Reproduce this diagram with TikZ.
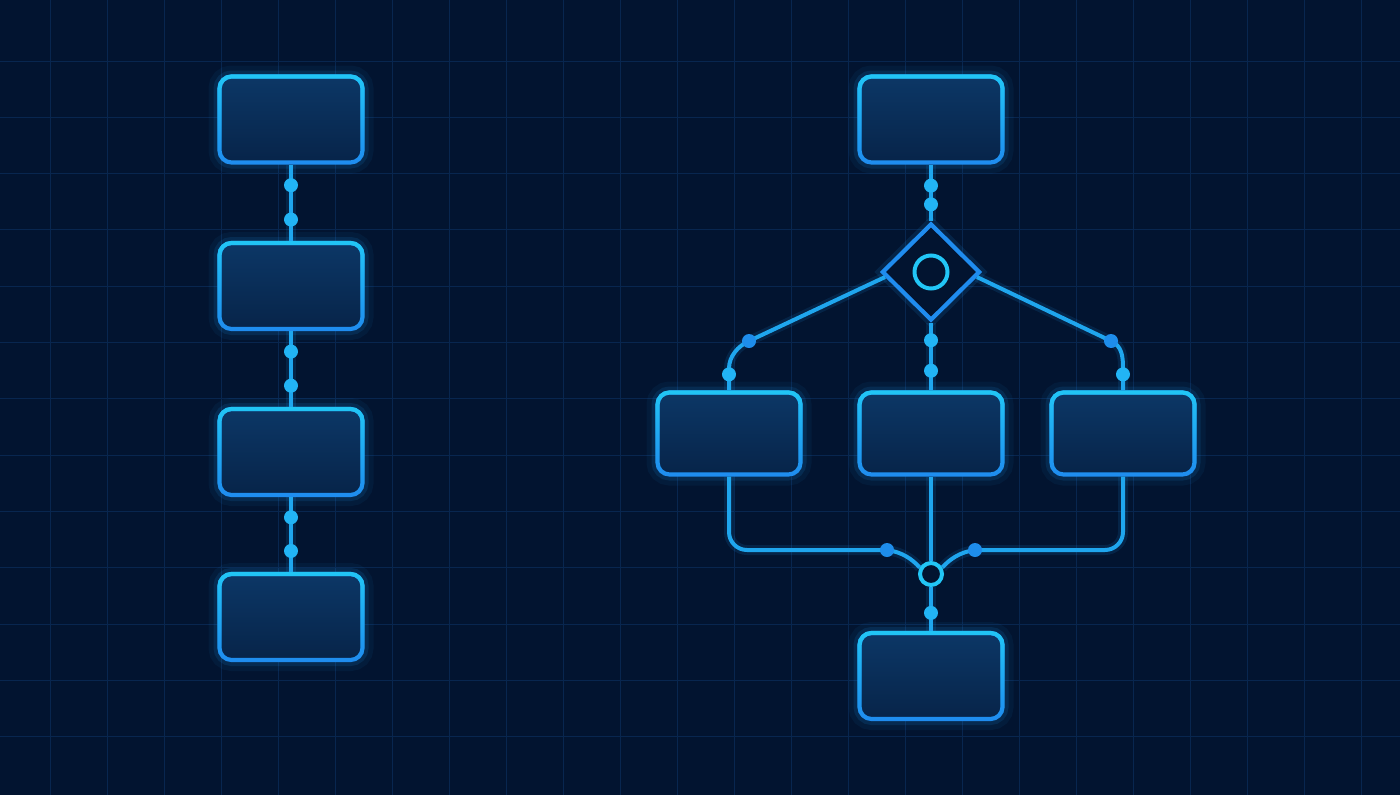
\documentclass[tikz,border=0pt]{standalone}
\usepackage{tikz}
\usetikzlibrary{shapes.geometric,calc,fadings}
\definecolor{bgc}{HTML}{021430}
\definecolor{gridc}{HTML}{08264F}
\definecolor{boxtop}{HTML}{0C3766}
\definecolor{boxbot}{HTML}{072449}
\definecolor{edgetop}{HTML}{22C6F6}
\definecolor{edgebot}{HTML}{1F8CEF}
\definecolor{wirec}{HTML}{1FA6EE}
\definecolor{knotc}{HTML}{22B4F5}
\definecolor{knotb}{HTML}{1E8DEB}
\definecolor{glowc}{HTML}{1E9CF0}
\tikzstyle{stage} = [rectangle, rounded corners=12pt, minimum width=143pt, minimum height=86pt, inner sep=0pt, draw=edgebot, line width=4.2pt, top color=boxtop, bottom color=boxbot, preaction={draw=glowc, line width=22pt, opacity=.06}, preaction={draw=glowc, line width=12pt, opacity=.12}, postaction={draw=edgetop, line width=4.2pt, path fading=south}]
\tikzstyle{knot} = [circle, fill=knotc, minimum size=14pt, inner sep=0pt]
\tikzstyle{conn} = [draw=wirec, line width=4pt, preaction={draw=glowc, line width=10pt, opacity=.12}]
\tikzstyle{gline} = [draw=gridc, line width=1pt]

\begin{document}
\begin{tikzpicture}[x=1pt, y=-1pt]
    \useasboundingbox (0,0) rectangle (1400,795);
    \fill[bgc] (0,0) rectangle (1400,795);
    \foreach \i in {0,...,23} \draw[gline] ({50+57*\i},0) -- ({50+57*\i},795);
    \foreach \j in {0,...,12} \draw[gline] (0,{61+56.33*\j}) -- (1400,{61+56.33*\j});

    \node[stage] (s1) at (291,119.5) {};
    \node[stage] (s2) at (291,286) {};
    \node[stage] (s3) at (291,452) {};
    \node[stage] (s4) at (291,617) {};
    \foreach \a/\b in {s1/s2, s2/s3, s3/s4}
        \draw[conn] (\a.south) -- node[knot, pos=.27] {} node[knot, pos=.72] {} (\b.north);

    \node[stage] (start) at (931,119.5) {};
    \node[diamond, draw=edgebot, line width=4.2pt, fill=bgc, minimum width=98pt, minimum height=97pt, inner sep=0pt,
          preaction={draw=glowc, line width=12pt, opacity=.12}] (gate) at (931,272) {};
    \node[circle, draw=edgetop, line width=4pt, minimum size=33pt, inner sep=0pt] (gatec) at (gate) {};
    \node[stage, minimum height=82pt] (lbox) at (729,433.5) {};
    \node[stage, minimum height=82pt] (mbox) at (931,433.5) {};
    \node[stage, minimum height=82pt] (rbox) at (1123,433.5) {};
    \node[stage] (finish) at (931,676) {};
    \node[circle, draw=edgetop, line width=4pt, fill=bgc, minimum size=22pt, inner sep=0pt] (merge) at (931,574) {};

    \coordinate (lj) at (749,341);
    \coordinate (rj) at (1111,341);
    \coordinate (ml) at (887,550);
    \coordinate (mr) at (975,550);

    \draw[conn] (start.south) -- node[knot, pos=.37] {} node[knot, pos=.7] {} (gate.north);
    \draw[conn] (gate.south) -- node[knot, pos=.26] {} node[knot, pos=.71] {} (mbox.north);
    \draw[conn] ($(gate.west)!.1!(gate.south)$) -- (lj) .. controls (738,346) and ([yshift=34pt]lbox.north) .. ([yshift=22pt]lbox.north) -- node[knot, pos=.27] {} (lbox.north);
    \draw[conn] ($(gate.east)!.1!(gate.south)$) -- (rj) .. controls (1122,346) and ([yshift=34pt]rbox.north) .. ([yshift=22pt]rbox.north) -- node[knot, pos=.27] {} (rbox.north);
    \node[knot, fill=knotb] (kl) at (lj) {};
    \node[knot, fill=knotb] (kr) at (rj) {};

    \draw[conn, rounded corners=18pt] (lbox.south) |- (ml);
    \draw[conn, rounded corners=18pt] (rbox.south) |- (mr);
    \draw[conn] (ml) .. controls (902,552) and (912,559) .. (merge.150);
    \draw[conn] (mr) .. controls (960,552) and (950,559) .. (merge.30);
    \draw[conn] (mbox.south) -- (merge.north);
    \draw[conn] (merge.south) -- node[knot, pos=.59] {} (finish.north);
    \node[knot, fill=knotb] (kml) at (ml) {};
    \node[knot, fill=knotb] (kmr) at (mr) {};
\end{tikzpicture}
\end{document}
